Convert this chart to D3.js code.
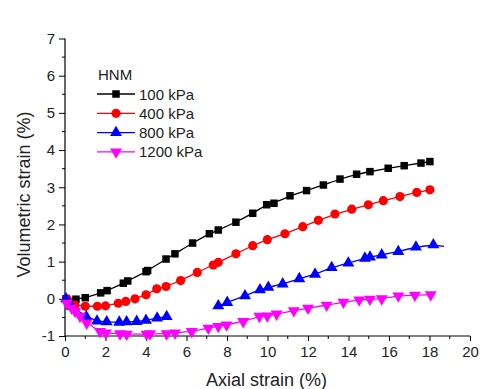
<!DOCTYPE html>
<html><head><meta charset="utf-8">
<script src="https://cdn.jsdelivr.net/npm/d3@7"></script>
<style>body{margin:0;background:#fff}svg{display:block}text{font-family:"Liberation Sans",Arial,sans-serif}</style>
</head><body><svg id="c" width="485" height="389"></svg>
<script>
const seriesNames = ["100 kPa","400 kPa","800 kPa","1200 kPa"];
const colors = ["#000000","#ff0000","#0000ff","#ff00ff"];
const legendTitle = "HNM";
const xTicks = [0,2,4,6,8,10,12,14,16,18,20];
const yTicks = [-1,0,1,2,3,4,5,6,7];

const s100 = [[0.05,0.0],[0.54,-0.01],[1.0,0.03],[1.76,0.16],[2.08,0.22],[2.88,0.42],[3.1,0.48],[4.0,0.73],[4.08,0.76],[4.99,1.07],[5.43,1.21],[6.3,1.5],[7.13,1.75],[7.57,1.85],[8.44,2.06],[9.27,2.3],[9.96,2.53],[10.32,2.57],[11.11,2.77],[11.93,2.91],[12.76,3.06],[13.58,3.22],[14.4,3.35],[15.06,3.42],[15.96,3.51],[16.75,3.58],[17.58,3.65],[18.02,3.69]];
const s400 = [[0.1,0.0],[0.49,-0.17],[1.0,-0.2],[1.6,-0.2],[2.0,-0.19],[2.63,-0.12],[3.0,-0.07],[3.46,0.0],[4.0,0.11],[4.53,0.27],[4.99,0.33],[5.71,0.49],[6.53,0.71],[7.32,0.91],[7.57,0.98],[8.44,1.21],[9.27,1.43],[9.99,1.59],[10.86,1.75],[11.74,1.94],[12.51,2.11],[13.33,2.28],[14.16,2.41],[14.98,2.53],[15.72,2.64],[16.54,2.75],[17.37,2.86],[18.02,2.93]];
const s800a = [[0.05,0.0],[0.3,-0.2],[1.05,-0.48],[1.58,-0.6],[2.06,-0.62],[2.68,-0.63],[3.04,-0.62],[3.54,-0.61],[4.0,-0.58],[4.55,-0.52],[5.02,-0.48]];
const s800b = [[7.57,-0.19],[8.01,-0.1],[8.89,0.08],[9.63,0.24],[10.04,0.31],[10.75,0.4],[11.57,0.54],[12.35,0.66],[13.17,0.84],[13.99,0.96],[14.81,1.09],[15.06,1.12],[15.64,1.18],[16.46,1.27],[17.33,1.39],[18.19,1.45]];
const s800bLineEnd = [18.72,1.41];
const s1200 = [[0.08,-0.12],[0.33,-0.25],[0.5,-0.34],[0.74,-0.47],[1.07,-0.65],[1.73,-0.88],[2.02,-0.92],[2.72,-0.94],[3.05,-0.95],[4.03,-0.95],[4.2,-0.94],[5.02,-0.94],[5.43,-0.92],[6.26,-0.88],[7.08,-0.79],[7.57,-0.74],[7.98,-0.7],[8.8,-0.61],[9.6,-0.47],[9.99,-0.46],[10.45,-0.41],[11.3,-0.32],[12.0,-0.25],[12.92,-0.17],[13.75,-0.09],[14.53,-0.03],[15.06,-0.01],[15.64,0.0],[16.46,0.08],[17.28,0.1],[18.06,0.11]];

const svg = d3.select("#c");
const x = d3.scaleLinear().domain([0,20]).range([65,470]);
const y = d3.scaleLinear().domain([-1,7]).range([336,38.5]);

// axes
const fmt = d => String(d);
const xAxis = d3.axisBottom(x).tickValues(xTicks).tickFormat(fmt).tickSize(5).tickPadding(5);
const gx = svg.append("g").attr("transform","translate(0,"+y(-1)+")").call(xAxis);
gx.append("g").selectAll("line").data(d3.range(1,20,2)).join("line")
  .attr("x1",d=>x(d)).attr("x2",d=>x(d)).attr("y1",0).attr("y2",3).attr("stroke","#000");
const yAxis = d3.axisLeft(y).tickValues(yTicks).tickFormat(fmt).tickSize(6).tickPadding(4);
const gy = svg.append("g").attr("transform","translate("+x(0)+",0)").call(yAxis);
gy.append("g").selectAll("line").data(d3.range(-0.5,7,1)).join("line")
  .attr("x1",0).attr("x2",-3).attr("y1",d=>y(d)).attr("y2",d=>y(d)).attr("stroke","#000");
[gx,gy].forEach(g=>{
  g.attr("font-size",15).attr("font-family","Liberation Sans, Arial, sans-serif");
  g.select(".domain").attr("stroke","#000").attr("stroke-width",1.2);
  g.selectAll(".tick line").attr("stroke","#000");
  g.selectAll(".tick text").attr("fill","#222");
});
gx.select(".domain").attr("d","M"+x(0)+",0H"+x(20));
gy.select(".domain").attr("d","M0,"+y(-1)+"V"+y(7));

svg.append("text").attr("x",266.5).attr("y",386).attr("text-anchor","middle").attr("font-size",18).attr("fill","#222").text("Axial strain (%)");
svg.append("text").attr("transform","translate(30,194.5) rotate(-90)").attr("text-anchor","middle").attr("font-size",18).attr("fill","#222").text("Volumetric strain (%)");

const line = d3.line().x(d=>x(d[0])).y(d=>y(d[1])).curve(d3.curveBasis);
const symTypes = [d3.symbolSquare, d3.symbolCircle, d3.symbolTriangle, d3.symbolTriangle];
const symSizes = [56, 66, 62, 62];
function marker(g, i, px, py){
  const p = g.append("path").attr("d", d3.symbol().type(symTypes[i]).size(symSizes[i])())
    .attr("fill",colors[i]);
  let t = "translate("+px+","+py+")";
  if(i===3) t += " rotate(180)";
  p.attr("transform",t);
}
function drawSeries(data, i, lineData){
  svg.append("path").attr("d",line(lineData||data)).attr("fill","none").attr("stroke",colors[i]).attr("stroke-width",1.3);
  const g = svg.append("g");
  data.forEach(d=>marker(g,i,x(d[0]),y(d[1])));
}
drawSeries(s100,0);
drawSeries(s400,1);
drawSeries(s800a,2);
drawSeries(s800b,2,s800b.concat([s800bLineEnd]));
drawSeries(s1200,3);

// legend
const lg = svg.append("g");
lg.append("text").attr("x",98).attr("y",80).attr("font-size",15).attr("fill","#222").text(legendTitle);
seriesNames.forEach((n,i)=>{
  const yy = 94 + i*19.3;
  lg.append("line").attr("x1",97).attr("x2",135).attr("y1",yy).attr("y2",yy).attr("stroke",colors[i]).attr("stroke-width",1.3);
  marker(lg,i,116,yy);
  lg.append("text").attr("x",139).attr("y",yy+5.5).attr("font-size",15).attr("fill","#222").text(n);
});
</script></body></html>
